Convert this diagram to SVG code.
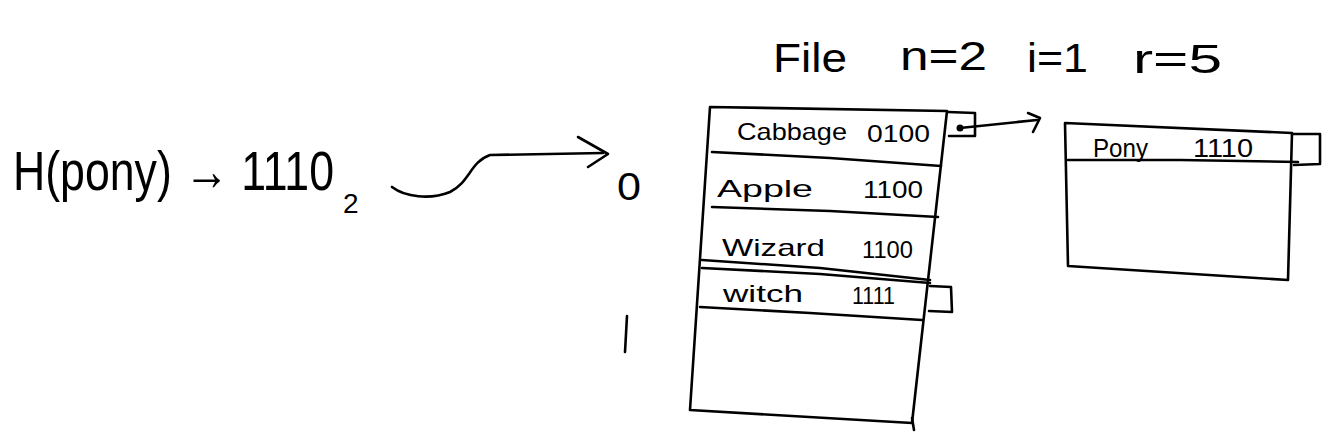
<svg xmlns="http://www.w3.org/2000/svg" width="1334" height="438" viewBox="0 0 1334 438">
<style>
.ln{fill:none;stroke:#000;stroke-width:2.6;stroke-linecap:round;stroke-linejoin:round}
.t{font-family:"Liberation Sans","DejaVu Sans",sans-serif;fill:#000}
.ttl{font-size:40px}
.row{font-size:24px}
</style>
<rect width="1334" height="438" fill="#fff"/>
<g id="title">
<text class="t ttl" x="773" y="72" textLength="74" lengthAdjust="spacingAndGlyphs">File</text>
<text class="t ttl" x="900" y="70" textLength="87" lengthAdjust="spacingAndGlyphs">n=2</text>
<text class="t ttl" x="1027" y="72" textLength="61" lengthAdjust="spacingAndGlyphs">i=1</text>
<text class="t ttl" x="1133" y="73" textLength="89" lengthAdjust="spacingAndGlyphs">r=5</text>
</g>
<g id="hash">
<text class="t" x="13" y="190" font-size="45" transform="matrix(1 0 0 1.25 0 -47.5)" textLength="321" lengthAdjust="spacingAndGlyphs">H(pony) → 1110</text>
<text class="t" x="343" y="213" font-size="28">2</text>
</g>
<g id="label0">
<text class="t" x="617" y="200" font-size="38" textLength="24" lengthAdjust="spacingAndGlyphs">0</text>
</g>
<g id="label1">
<path class="ln" d="M627 316 L625 352"/>
</g>
<g id="bucket0">
<path class="ln" d="M710 107 L947 111 L912 423 L690 410 Z"/>
<path class="ln" d="M912 418 L914 430"/>
<path class="ln" d="M712 152 L830 158 L941 166"/>
<path class="ln" d="M712 207 L830 211 L938 217"/>
<path class="ln" d="M702 260 L820 268 L930 280"/>
<path class="ln" d="M702 268 L820 274 L930 283"/>
<path class="ln" d="M700 307 L810 313 L922 320"/>
<path class="ln" d="M948 112 L975 113 L975 136 L949 136"/>
<path class="ln" d="M930 286 L951 287 L952 312 L929 311"/>
<text class="t row" x="737" y="140" textLength="110" lengthAdjust="spacingAndGlyphs">Cabbage</text>
<text class="t row" x="867" y="142" textLength="63" lengthAdjust="spacingAndGlyphs">0100</text>
<text class="t row" x="717" y="197" textLength="96" lengthAdjust="spacingAndGlyphs">Apple</text>
<text class="t row" x="863" y="198" textLength="60" lengthAdjust="spacingAndGlyphs">1100</text>
<text class="t row" x="722" y="256" textLength="103" lengthAdjust="spacingAndGlyphs">Wizard</text>
<text class="t row" x="862" y="258" textLength="51" lengthAdjust="spacingAndGlyphs">1100</text>
<text class="t row" x="723" y="302" textLength="80" lengthAdjust="spacingAndGlyphs">witch</text>
<text class="t row" x="852" y="304" textLength="43" lengthAdjust="spacingAndGlyphs">1111</text>
</g>
<g id="overflow">
<path class="ln" d="M1065 123 L1292 133 L1288 280 L1068 266 Z"/>
<path class="ln" d="M1068 160 L1180 160 L1298 162"/>
<path class="ln" d="M1292 134 L1320 134 L1320 164 L1294 165"/>
<text class="t" x="1093" y="157" font-size="26" textLength="55" lengthAdjust="spacingAndGlyphs">Pony</text>
<text class="t" x="1193" y="157" font-size="26" textLength="60" lengthAdjust="spacingAndGlyphs">1110</text>
</g>
<g id="connectors">
<path class="ln" d="M392 187 C405 197 430 200 450 192 C470 182 470 162 490 155 L603 153"/>
<path class="ln" d="M578 137 L608 154 L588 167"/>
<circle cx="960" cy="128" r="3.5" fill="#000"/>
<path class="ln" d="M960 128 L1037 120"/>
<path class="ln" d="M1028 113 L1040 118 L1033 132"/>
</g>
</svg>
